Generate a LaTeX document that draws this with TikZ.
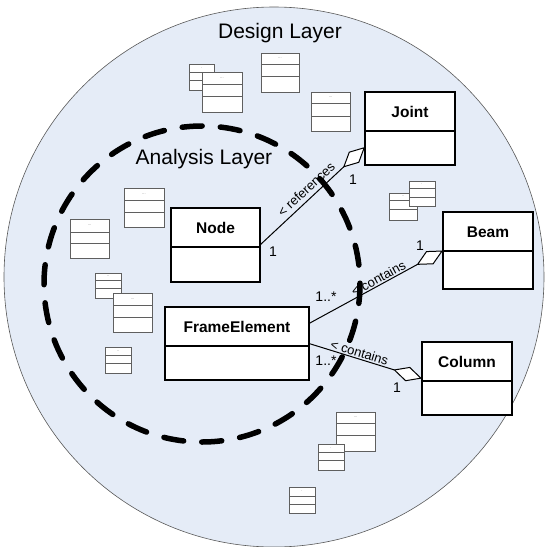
\documentclass[tikz,border=0pt]{standalone}
\usepackage{fontspec}
\setmainfont{Liberation Sans}
\usetikzlibrary{arrows.meta}

\definecolor{layerfill}{RGB}{229,236,247}
\definecolor{stubgray}{RGB}{95,95,95}

\tikzset{
  classbox/.style={draw=black, line width=2pt, fill=white, inner sep=0pt, outer sep=0pt},
  classname/.style={font=\bfseries\fontsize{15.5}{18}\selectfont, inner sep=0pt},
  assoc/.style={line width=1pt, -{Diamond[length=30pt, width=15pt, fill=white, line width=1pt]}},
  mult/.style={font=\fontsize{14}{16}\selectfont, inner sep=0pt},
  rolelabel/.style={font=\fontsize{13}{15}\selectfont, sloped, inner sep=1pt},
  layerlabel/.style={font=\fontsize{21}{24}\selectfont, inner sep=0pt},
  stub/.style={draw=stubgray, line width=0.9pt, fill=white},
  stubdots/.style={font=\fontsize{4}{4}\selectfont, text=stubgray, inner sep=0pt},
}

% UML class with a name compartment and an empty body: name, left, top, width, height, title
\newcommand\umlclass[6]{%
  \node[classbox, minimum width=#4pt, minimum height=#5pt, anchor=north west] (#1) at (#2,#3) {};
  \draw[line width=2pt] ([yshift=-39pt]#1.north west) -- ([yshift=-39pt]#1.north east);
  \node[classname] (#1-title) at ([yshift=-20pt]#1.north) {#6};
}

% small background class: x1, y1, x2, y2, divider 1, divider 2, dots
\newcommand\stubclass[7]{%
  \draw[stub] (#1,#2) rectangle (#3,#4);
  \draw[stubgray, line width=0.9pt] (#1,#5) -- (#3,#5) (#1,#6) -- (#3,#6);
  \node[stubdots] at ({(#1+#3)/2},{(#2+#5)/2}) {#7};
}

\begin{document}
\begin{tikzpicture}[x=1pt, y=-1pt]
\useasboundingbox (0,0) rectangle (546,547);

% design layer
\draw[fill=layerfill, draw=gray!70!black, line width=0.6pt] (274,277) circle[radius=270pt];
\node[layerlabel] (design) at (280,33) {Design Layer};

% background classes
\stubclass{189}{64}{214}{90}{72}{80}{.}
\stubclass{202}{72}{242}{112}{84}{96}{...}
\stubclass{261}{53}{299}{92}{64}{76}{...}
\stubclass{311}{92}{350}{131}{103}{116}{...}
\stubclass{124}{188}{164}{227}{200}{212}{...}
\stubclass{70}{219}{109}{258}{232}{243}{...}
\stubclass{95}{273}{121}{298}{280}{288}{..}
\stubclass{113}{293}{152}{332}{305}{317}{...}
\stubclass{105}{347}{131}{373}{355}{363}{..}
\stubclass{389}{193}{417}{220}{200}{209}{..}
\stubclass{409}{181}{435}{206}{188}{197}{.}
\stubclass{336}{412}{375}{451}{423}{435}{...}
\stubclass{318}{444}{344}{470}{452}{460}{.}
\stubclass{289}{487}{315}{513}{496}{504}{.}

% classes
\umlclass{joint}{365}{92}{90}{73}{Joint}
\umlclass{beam}{443}{212}{90}{77}{Beam}
\umlclass{column}{422}{342}{90}{73}{Column}
\umlclass{node}{171}{208}{89}{74}{Node}
\umlclass{fe}{165}{307}{144}{73}{FrameElement}

% associations
\draw[assoc] (node.east) -- ([yshift=-18.5pt]joint.west)
  node[pos=0.5, rolelabel, above=3pt] (refs) {< references};
\draw[assoc] ([yshift=20pt]fe.east) -- (beam.west)
  node[pos=0.54, rolelabel, above=0pt] (contains-beam) {< contains};
\draw[assoc] (fe.east) -- (column.west)
  node[pos=0.43, rolelabel, above=0pt] (contains-column) {< contains};

% multiplicities
\node[mult] (m-joint) at (353,180) {1};
\node[mult] (m-node) at (273,252) {1};
\node[mult] (m-fe-up) at (326,297) {1..*};
\node[mult] (m-beam) at (420,246) {1};
\node[mult] (m-fe-down) at (326,361) {1..*};
\node[mult] (m-column) at (397,388) {1};

% analysis layer
\draw[line width=5.5pt, dash pattern=on 20pt off 18.18pt, dash phase=19.2pt, line cap=round] (202,284) circle[radius=158pt];
\node[layerlabel] (analysis) at (204,159) {Analysis Layer};
\end{tikzpicture}
\end{document}
